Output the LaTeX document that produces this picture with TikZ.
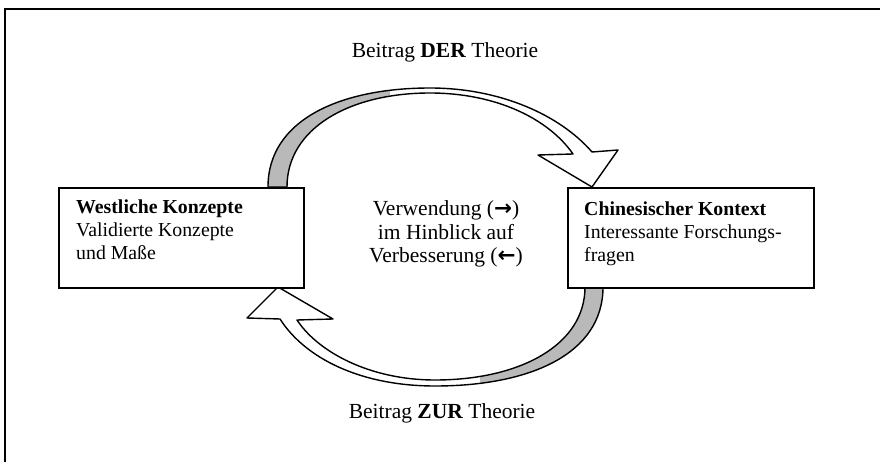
\documentclass[tikz,border=0pt]{standalone}
\usepackage{fontspec}
\setmainfont{Liberation Serif}
\newfontfamily\arrowfont{DejaVu Sans}
\begin{document}
\begin{tikzpicture}[x=1pt,y=-1pt,
  outl/.style={draw=black,line width=1.4pt,line join=round},
  bandfill/.style={fill=gray!55},
  boxst/.style={draw=black,line width=1.6pt,fill=white,inner sep=0pt,anchor=north west},
  lbl/.style={font=\fontsize{21.5}{24}\selectfont,inner sep=0pt,anchor=base},
  midtxt/.style={font=\fontsize{21.5}{23.5}\selectfont,inner sep=0pt,anchor=north,align=center},
  boxtxt/.style={font=\fontsize{19.8}{23}\selectfont,inner sep=0pt,anchor=north west,align=left},
]
\useasboundingbox (0,0) rectangle (880,462);
\draw[line width=1.6pt] (880,9) -- (5,9) -- (5,462);

% top arrow (DER)
\fill[white] (268,187) .. controls (268,120) and (340,88) .. (430,88) .. controls (500,88) and (560,115) .. (592,152) -- (618,150) -- (592,187) -- (538,155) -- (573,154) .. controls (548,118) and (495,93) .. (430,93) .. controls (350,93) and (287,128) .. (287,187) -- cycle;
\begin{scope}
\clip (0,0) rectangle (390,462);
\fill[bandfill] (268,187) .. controls (268,120) and (340,88) .. (430,88) -- (430,93) .. controls (350,93) and (287,128) .. (287,187) -- cycle;
\end{scope}
\draw[outl] (268,187) .. controls (268,120) and (340,88) .. (430,88) .. controls (500,88) and (560,115) .. (592,152) -- (618,150) -- (592,187) -- (538,155) -- (573,154) .. controls (548,118) and (495,93) .. (430,93) .. controls (350,93) and (287,128) .. (287,187) -- cycle;

% bottom arrow (ZUR)
\fill[white] (603,287) .. controls (603,354) and (530,386) .. (435,386) .. controls (360,386) and (305,358) .. (280,319) -- (247,318) -- (278,287) -- (333,319) -- (297,320) .. controls (318,352) and (370,380) .. (435,380) .. controls (520,380) and (585,345) .. (585,287) -- cycle;
\begin{scope}
\clip (480,0) rectangle (880,462);
\fill[bandfill] (603,287) .. controls (603,354) and (530,386) .. (435,386) -- (435,380) .. controls (520,380) and (585,345) .. (585,287) -- cycle;
\end{scope}
\draw[outl] (603,287) .. controls (603,354) and (530,386) .. (435,386) .. controls (360,386) and (305,358) .. (280,319) -- (247,318) -- (278,287) -- (333,319) -- (297,320) .. controls (318,352) and (370,380) .. (435,380) .. controls (520,380) and (585,345) .. (585,287) -- cycle;

% boxes
\node[boxst,minimum width=245pt,minimum height=100pt] (west) at (58,187) {};
\node[boxst,minimum width=246pt,minimum height=100pt] (china) at (567,187) {};

\node[boxtxt] (westtxt) at (76,200) {\textbf{Westliche Konzepte}\\Validierte Konzepte\\und Maße};
\node[boxtxt] (chinatxt) at (584,201.5) {\textbf{Chinesischer Kontext}\\Interessante Forschungs-\\fragen};

\node[midtxt] (mid) at (446,200.5) {Verwendung ({\arrowfont\bfseries →})\\im Hinblick auf\\Verbesserung ({\arrowfont\bfseries ←})};

\node[lbl] (der) at (445,58) {Beitrag \textbf{DER} Theorie};
\node[lbl] (zur) at (442,418) {Beitrag \textbf{ZUR} Theorie};
\end{tikzpicture}
\end{document}
